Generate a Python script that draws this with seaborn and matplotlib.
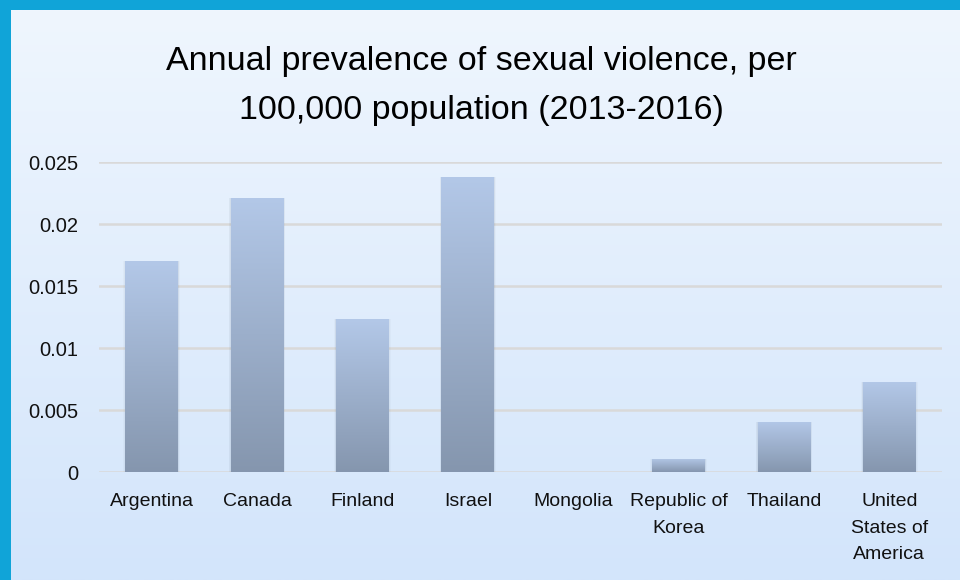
import numpy as np
import pandas as pd
import matplotlib
matplotlib.use("Agg")
import matplotlib.pyplot as plt
from matplotlib import font_manager
from matplotlib.colors import LinearSegmentedColormap
import seaborn as sns

countries = ["Argentina", "Canada", "Finland", "Israel", "Mongolia",
             "Republic of\nKorea", "Thailand", "United\nStates of\nAmerica"]
values = [0.0170, 0.0221, 0.0123, 0.0238, 0.0, 0.00105, 0.00406, 0.00726]
yticks = [0, 0.005, 0.01, 0.015, 0.02, 0.025]
yticklabels = ["0", "0.005", "0.01", "0.015", "0.02", "0.025"]
title_lines = ["Annual prevalence of sexual violence, per",
               "100,000 population (2013-2016)"]

sns.set_theme(style="white")
names = {f.name for f in font_manager.fontManager.ttflist}
if "Liberation Sans Narrow" in names:
    fam = ["Liberation Sans Narrow", "DejaVu Sans"]
    tsize, ysize, xsize = 31, 17, 16
else:
    fam = ["Liberation Sans", "DejaVu Sans"]
    tsize, ysize, xsize = 24.5, 14.5, 14
plt.rcParams["font.family"] = fam

W, H = 960, 580
fig = plt.figure(figsize=(9.6, 5.8), dpi=100, facecolor="#10a4d8")

# background panel with vertical gradient
bg = fig.add_axes([11 / W, 0, 1 - 11 / W, 1 - 10 / H])
grad = np.linspace(0, 1, 256).reshape(-1, 1)
bg_cmap = LinearSegmentedColormap.from_list("bg", ["#eff6fe", "#d3e5fb"])
bg.imshow(grad, aspect="auto", cmap=bg_cmap, extent=[0, 1, 0, 1], origin="upper")
bg.set_axis_off()
bg.set_zorder(0)

# main axes
left, right = 99 / W, 942 / W
bottom, top = (H - 472) / H, (H - 162) / H
ax = fig.add_axes([left, bottom, right - left, top - bottom])
ax.set_zorder(1)
ax.patch.set_alpha(0)

df = pd.DataFrame({"country": countries, "value": values})
sns.barplot(data=df, x="country", y="value", ax=ax, width=0.5,
            color="#9fb3d3", saturation=1, edgecolor="none")

ax.set_ylim(0, 0.025)
ax.set_xlim(-0.5, len(countries) - 0.5)
ax.set_yticks(yticks)
ax.set_yticklabels(yticklabels)
ax.yaxis.grid(True, color="#d9d9d9", linewidth=1.8)
ax.set_axisbelow(True)
for s in ax.spines.values():
    s.set_visible(False)
ax.set_xlabel("")
ax.set_ylabel("")
ax.tick_params(axis="y", length=0, pad=15, labelsize=ysize, labelcolor="#111111")
ax.tick_params(axis="x", length=0, pad=15, labelsize=xsize, labelcolor="#111111")
for lab in ax.get_xticklabels():
    lab.set_horizontalalignment("center")
    lab.set_multialignment("center")
    lab.set_linespacing(1.75)

# gradient fill + soft shadow for bars
bar_cmap = LinearSegmentedColormap.from_list("bar", ["#b3c8e8", "#8596ae"])
for p in list(ax.patches):
    x0, y0 = p.get_x(), p.get_y()
    w, h = p.get_width(), p.get_height()
    if h <= 0:
        continue
    for k, a in [(3, 0.04), (2, 0.05), (1, 0.07)]:
        dx = k * 0.006
        dy = k * 0.00004
        sh = plt.Rectangle((x0 - dx, y0 - dy * 2), w + 2 * dx, h + dy * 2,
                           facecolor="#6a7a90", alpha=a, edgecolor="none", zorder=2)
        ax.add_patch(sh)
    im = ax.imshow(grad, aspect="auto", cmap=bar_cmap, origin="upper",
                   extent=[x0, x0 + w, y0, y0 + h], zorder=3)
    im.set_clip_path(p)
    p.set_facecolor("none")
    p.set_zorder(3)

ax.set_xlim(-0.5, len(countries) - 0.5)
ax.set_ylim(0, 0.025)

fig.text(481 / W, (H - 70) / H, title_lines[0], ha="center", va="baseline",
         fontsize=tsize, color="#000000")
fig.text(481 / W, (H - 119) / H, title_lines[1], ha="center", va="baseline",
         fontsize=tsize, color="#000000")

fig.savefig("out.png", dpi=100, facecolor=fig.get_facecolor())
